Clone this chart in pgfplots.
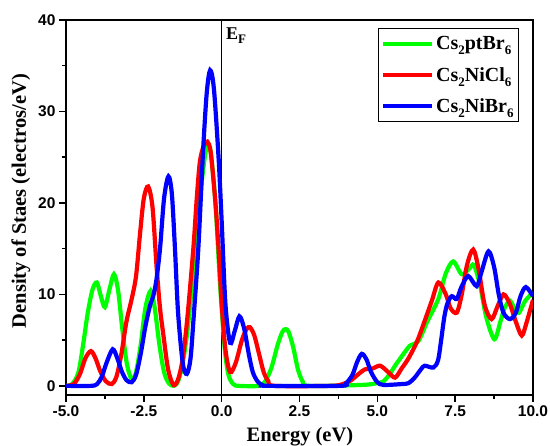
\documentclass[border=0pt]{standalone}
\usepackage{fontspec}
\setmainfont{Liberation Serif}
\newfontfamily\arialf{Liberation Sans}
\usepackage{pgfplots}
\pgfplotsset{compat=1.18}
\definecolor{cgreen}{RGB}{0,255,0}
\definecolor{cred}{RGB}{255,0,0}
\definecolor{cblue}{RGB}{0,0,255}
\newcommand\sub[1]{\raisebox{-0.55ex}{\fontsize{13}{13}\selectfont #1}}
\begin{document}
\begin{tikzpicture}
\useasboundingbox (-66pt,-51pt) rectangle (484pt,395pt);
\begin{axis}[
  at={(0,0)}, anchor=south west,
  width=467pt, height=375pt, scale only axis,
  xmin=-5, xmax=10, ymin=-1, ymax=40,
  xtick={-5,-2.5,0,2.5,5,7.5,10},
  xticklabels={-5.0,-2.5,0.0,2.5,5.0,7.5,10.0},
  ytick={0,10,20,30,40},
  yticklabels={0,10,20,30,40},
  minor x tick num=1, minor y tick num=1,
  tick align=outside,
  xtick pos=bottom, ytick pos=left,
  major tick length=7pt, minor tick length=4pt,
  axis line style={line width=1.6pt},
  every tick/.style={line width=1.4pt, black},
  ticklabel style={font=\arialf\bfseries\fontsize{15.5}{17}\selectfont},
  xlabel={Energy (eV)},
  ylabel={Density of Staes (electros/eV)},
  label style={font=\bfseries\fontsize{20.5}{24}\selectfont},
  xlabel style={at={(axis description cs:0.501,-0.1253)}, anchor=base},
  ylabel style={at={(axis description cs:-0.0964,0.517)}, anchor=center},
  legend style={at={(0.970,0.9787)}, anchor=north east,
    draw=black, line width=0.8pt,
    font=\bfseries\fontsize{20}{24}\selectfont,
    row sep=12pt, inner xsep=3pt, inner ysep=6pt,
    /tikz/every even column/.append style={column sep=0pt}},
  legend cell align=left,
  legend image code/.code={\draw[#1, line width=3.5pt] (0pt,0pt) -- (49pt,0pt);},
  every axis plot/.append style={line width=4.2pt, smooth},
]
\addplot[forget plot, black, line width=1.2pt, sharp plot] coordinates {(0,-1) (0,40)};
\addplot[cgreen] coordinates {
(-5.0,0) (-4.8,0.2) (-4.6,1.5) (-4.45,4.5) (-4.3,8) (-4.15,10.5) (-4.01,11.3) (-3.88,9.8) (-3.75,8.6) (-3.6,10.6) (-3.46,12.2) (-3.33,10.5) (-3.2,6.5) (-3.05,2.5) (-2.89,0.7) (-2.75,1.5) (-2.6,4.5) (-2.45,8.5) (-2.28,10.4) (-2.15,8.5) (-2.0,4.5) (-1.85,1.5) (-1.7,0.3) (-1.55,0) (-1.4,0.5) (-1.25,2.5) (-1.1,6) (-0.95,11) (-0.8,16.5) (-0.65,22) (-0.52,25.5) (-0.44,26.2) (-0.35,25.5) (-0.2,20) (-0.05,11) (0.1,4) (0.22,1.2) (0.37,0.2) (0.55,0) (1.2,0) (1.4,0.5) (1.6,2) (1.8,4.5) (1.95,5.9) (2.05,6.2) (2.15,5.9) (2.3,4.2) (2.45,1.8) (2.6,0.5) (2.8,0) (4.5,0.1) (5.0,0.3) (5.2,0.5) (5.4,1.3) (5.57,2.2) (5.8,3.3) (6.05,4.4) (6.32,4.9) (6.6,7) (6.96,9.5) (7.2,12.3) (7.44,13.6) (7.71,12.2) (7.95,12.8) (8.1,13.2) (8.3,11) (8.5,7.5) (8.76,5.1) (8.95,7) (9.1,8.6) (9.26,9.3) (9.4,8.5) (9.55,8) (9.75,9.3) (10,10.2)
};
\addlegendentry{Cs\sub{2}ptBr\sub{6}}
\addplot[cred] coordinates {
(-5.0,0) (-4.75,0.2) (-4.55,1.3) (-4.38,3) (-4.2,3.8) (-4.05,3) (-3.9,1.6) (-3.72,0.5) (-3.53,0.2) (-3.38,1) (-3.22,3.5) (-3.06,7) (-2.89,9.5) (-2.75,12) (-2.62,16.7) (-2.5,20.5) (-2.36,21.8) (-2.22,19.5) (-2.09,13) (-1.98,8.5) (-1.87,5.5) (-1.72,1.8) (-1.55,0.1) (-1.4,0.7) (-1.25,3) (-1.1,7.5) (-0.91,15) (-0.8,20.5) (-0.7,24.5) (-0.58,26.2) (-0.46,26.7) (-0.35,25.5) (-0.2,20) (-0.1,15) (0.0,9) (0.12,4) (0.27,1.5) (0.45,2.5) (0.65,5) (0.8,6.2) (0.91,6.4) (1.05,5.5) (1.2,3.5) (1.35,1.5) (1.5,0.5) (1.7,0) (3.5,0) (3.9,0.2) (4.15,0.6) (4.4,1.3) (4.6,1.8) (4.85,1.9) (5.09,2.2) (5.35,1.5) (5.57,0.9) (5.78,1.9) (6.0,3) (6.27,4.8) (6.5,6.9) (6.75,9.3) (6.96,11.3) (7.2,10) (7.35,8.5) (7.55,8) (7.7,9.8) (7.88,13.2) (8.08,14.9) (8.25,12.8) (8.45,8.8) (8.67,7.3) (8.85,8.6) (9.05,10) (9.25,9) (9.45,7) (9.64,5.5) (9.8,7) (10,9.4)
};
\addlegendentry{Cs\sub{2}NiCl\sub{6}}
\addplot[cblue] coordinates {
(-5.0,0) (-4.2,0) (-4.0,0.2) (-3.85,1) (-3.7,2.5) (-3.5,4.0) (-3.35,3) (-3.2,1.5) (-3.05,0.6) (-2.89,0.4) (-2.75,1.2) (-2.6,3.5) (-2.45,6.5) (-2.3,8.8) (-2.2,9.8) (-2.1,11.5) (-1.98,15) (-1.85,20.5) (-1.71,22.9) (-1.6,21) (-1.5,15) (-1.4,8) (-1.25,2.5) (-1.12,1.3) (-1.0,3) (-0.9,7.5) (-0.75,15) (-0.6,25.5) (-0.48,32) (-0.37,34.5) (-0.25,32.5) (-0.1,25) (0.0,18) (0.12,9) (0.27,4.7) (0.42,6) (0.57,7.6) (0.72,6.3) (0.87,3.5) (1.0,1.5) (1.15,0.5) (1.3,0.1) (1.5,0) (3.8,0) (4.0,0.3) (4.2,1.2) (4.35,2.6) (4.5,3.5) (4.65,2.9) (4.8,1.5) (5.0,0.4) (5.2,0.1) (5.8,0.2) (6.0,0.3) (6.2,0.9) (6.4,1.8) (6.52,2.2) (6.8,2.0) (6.95,2.8) (7.05,5) (7.15,7.5) (7.25,9) (7.39,9.8) (7.55,9.5) (7.7,10.8) (7.92,12) (8.19,10.9) (8.35,12.5) (8.57,14.7) (8.75,13) (8.9,10) (9.05,8) (9.26,7.3) (9.45,8) (9.6,9.8) (9.77,10.8) (10,9.8)
};
\addlegendentry{Cs\sub{2}NiBr\sub{6}}
\node[anchor=north west, inner sep=0pt, font=\bfseries\fontsize{18}{20}\selectfont] at (rel axis cs:0.3426,0.981) {E\sub{F}};
\end{axis}
\end{tikzpicture}
\end{document}
